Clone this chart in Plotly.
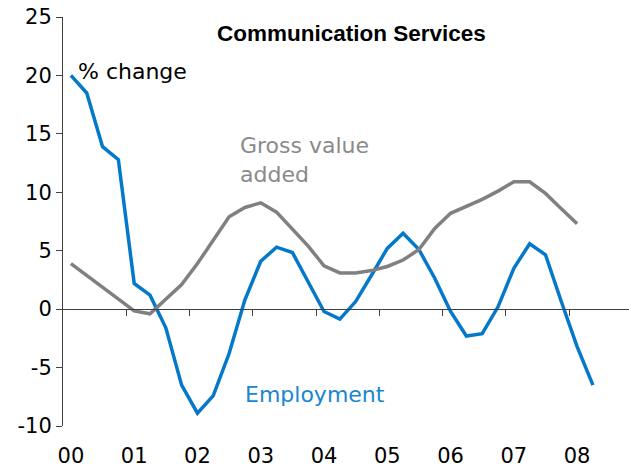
import plotly.graph_objects as go

# Quarterly data, 2000Q1 .. 2008Q2 (category index 0..33)
year_labels = ["00", "01", "02", "03", "04", "05", "06", "07", "08"]
y_ticks = [-10, -5, 0, 5, 10, 15, 20, 25]
y_ticklabels = ["-10", "-5", "0", "5", "10", "15", "20", "25"]
employment = [20.0, 18.5, 13.9, 12.8, 2.2, 1.2, -1.6, -6.5, -8.9, -7.4,
              -3.8, 0.8, 4.1, 5.3, 4.85, 2.4, -0.2, -0.85, 0.65, 2.9,
              5.2, 6.5, 5.1, 2.65, -0.2, -2.3, -2.1, 0.2, 3.5, 5.6,
              4.65, 0.65, -3.2, -6.5]
gva = [3.9, 2.9, 1.9, 0.9, -0.15, -0.4, 0.8, 2.1, 3.9, 5.9,
       7.9, 8.7, 9.1, 8.3, 6.9, 5.4, 3.7, 3.1, 3.1, 3.3,
       3.65, 4.2, 5.1, 6.9, 8.2, 8.8, 9.4, 10.1, 10.9, 10.9,
       9.9, 8.6, 7.3]

BLUE = "#0579c9"
GREY = "#808080"
AXIS = "#404040"
FONT = "DejaVu Sans"

x_emp = list(range(len(employment)))
x_gva = list(range(len(gva)))
xr = [-0.5, 35.28]
yr = [-10, 25]

fig = go.Figure()
fig.add_trace(go.Scatter(x=x_emp, y=employment, mode="lines",
                         line=dict(color=BLUE, width=3.5), showlegend=False,
                         name="Employment"))
fig.add_trace(go.Scatter(x=x_gva, y=gva, mode="lines",
                         line=dict(color=GREY, width=3.5), showlegend=False,
                         name="Gross value added"))
# helper trace so that the zero-line axis (x2) is drawn
fig.add_trace(go.Scatter(x=[None], y=[None], xaxis="x2", showlegend=False,
                         hoverinfo="skip"))

tickvals_lbl = [4 * k for k in range(len(year_labels))]
tickvals_mark = [4 * k - 0.5 for k in range(1, 10)]

fig.update_layout(
    width=629, height=467,
    margin=dict(l=63, r=0, t=17, b=41),
    paper_bgcolor="white", plot_bgcolor="white",
    font=dict(family=FONT, size=21, color="#000000"),
    xaxis=dict(range=xr, tickvals=tickvals_lbl, ticktext=year_labels,
               ticks="", showline=False, showgrid=False, zeroline=False,
               automargin=False, ticklabelstandoff=15,
               ticklabeloverflow="allow",
               tickfont=dict(family=FONT, size=21)),
    xaxis2=dict(range=xr, overlaying="x", anchor="free",
                position=(0 - yr[0]) / (yr[1] - yr[0]),
                showline=True, linecolor=AXIS, linewidth=1,
                ticks="outside", ticklen=6, tickcolor=AXIS, tickwidth=1,
                tickvals=tickvals_mark, showticklabels=False,
                showgrid=False, zeroline=False, automargin=False),
    yaxis=dict(range=yr, tickvals=y_ticks, ticktext=y_ticklabels,
               showline=True, linecolor=AXIS,
               linewidth=1, ticks="outside", ticklen=6, tickcolor=AXIS,
               showgrid=False, zeroline=False, automargin=False,
               ticklabeloverflow="allow",
               tickfont=dict(family=FONT, size=21)),
    annotations=[
        dict(text="<b>Communication Services</b>", xref="paper", yref="y",
             x=0.51, y=23.6, xanchor="center", yanchor="middle",
             showarrow=False,
             font=dict(family="Liberation Sans", size=22.5, color="#000000")),
        dict(text="% change", xref="x", yref="y", x=0.35, y=20.3,
             xanchor="left", yanchor="middle", showarrow=False,
             font=dict(family=FONT, size=22, color="#000000")),
        dict(text="Gross value<br>added", xref="x", yref="y", x=10.57,
             y=12.74, xanchor="left", yanchor="middle", align="left",
             showarrow=False,
             font=dict(family=FONT, size=22, color="#8a8a8a")),
        dict(text="Employment", xref="x", yref="y", x=10.85, y=-7.34,
             xanchor="left", yanchor="middle", showarrow=False,
             font=dict(family=FONT, size=22, color="#1a86d0")),
    ],
)

fig.write_html("out.html",
               config={"displayModeBar": False},
               post_script="document.body.style.margin='0';")
